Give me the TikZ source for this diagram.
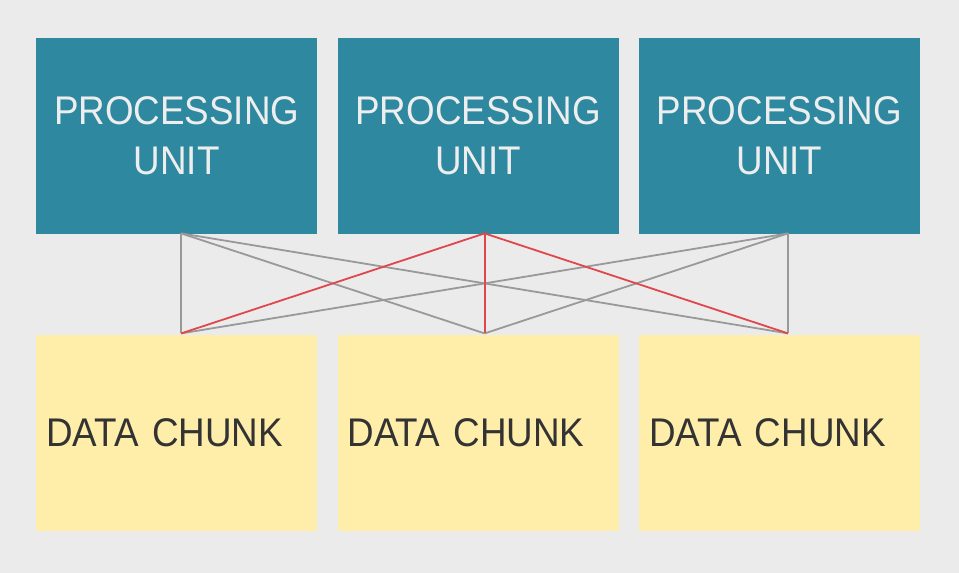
\documentclass[tikz,border=0pt]{standalone}
\usepackage{fontspec}
\setmainfont{Liberation Sans}[FakeStretch=0.92]
\usetikzlibrary{positioning}
\definecolor{backdrop}{HTML}{EBEBEB}
\definecolor{unitfill}{HTML}{2E89A0}
\definecolor{unittext}{HTML}{EEEEEE}
\definecolor{chunkfill}{HTML}{FFEEAA}
\definecolor{chunktext}{HTML}{333333}
\definecolor{linkgray}{HTML}{999999}
\definecolor{linkred}{HTML}{E0474C}
\begin{document}
\begin{tikzpicture}
		[x=1pt,y=1pt,
		unit/.style={fill=unitfill,text=unittext,minimum height=196pt,
			text width=261pt,inner xsep=10pt,inner ysep=0pt,align=center,
			font=\fontsize{40}{50}\selectfont},
		chunk/.style={unit,fill=chunkfill,text=chunktext,align=left},
		link/.style={draw=linkgray,line width=1.8pt},
		hot/.style={draw=linkred,line width=1.8pt}
		]
		\fill[backdrop] (0,0) rectangle (959,-573);
		\useasboundingbox (0,0) rectangle (959,-573);
		\node[unit,anchor=north west] (pu1) at (36,-38) {PROCESSING\\UNIT};
		\node[unit,right=20pt of pu1] (pu2) {PROCESSING\\UNIT};
		\node[unit,right=20pt of pu2] (pu3) {PROCESSING\\UNIT};
		\node[chunk,below=100pt of pu1] (dc1) {DATA CHUNK};
		\node[chunk,below=100pt of pu2] (dc2) {DATA CHUNK};
		\node[chunk,below=100pt of pu3] (dc3) {DATA CHUNK};
		\coordinate (u1) at ([xshift=4.5pt,yshift=1pt]pu1.south);
		\coordinate (u2) at ([xshift=6.5pt,yshift=1pt]pu2.south);
		\coordinate (u3) at ([xshift=8.5pt,yshift=1pt]pu3.south);
		\coordinate (d1) at ([xshift=4.5pt,yshift=1pt]dc1.north);
		\coordinate (d2) at ([xshift=6.5pt,yshift=1pt]dc2.north);
		\coordinate (d3) at ([xshift=8.5pt,yshift=1pt]dc3.north);
		\foreach \u in {u1,u3}
			\foreach \d in {d1,d2,d3}
				\draw[link] (\u) -- (\d);
		\foreach \d in {d1,d2,d3}
			\draw[hot] (u2) -- (\d);
	\end{tikzpicture}
\end{document}
